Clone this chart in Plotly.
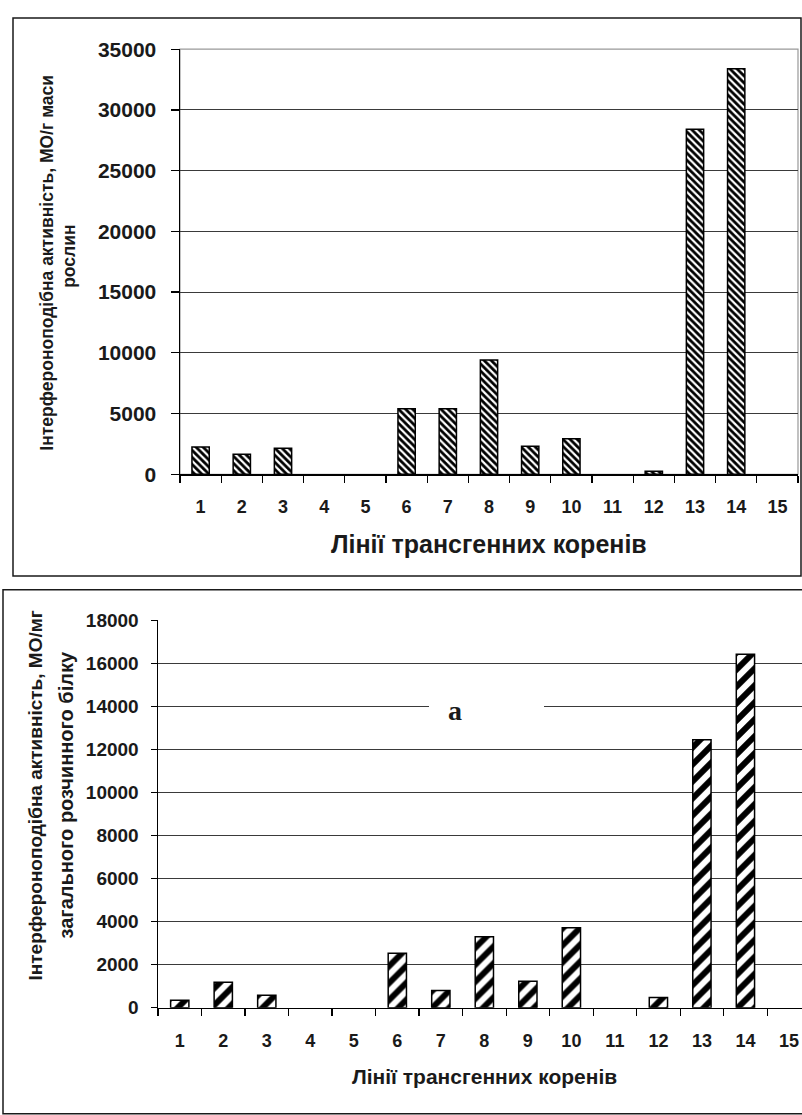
import plotly.graph_objects as go

# ---------------- data ----------------
lines = [str(i) for i in range(1, 16)]
# top chart: IU per g of plant mass (None = no bar)
ifn_per_g = [2250, 1640, 2150, None, None, 5400, 5400, 9400, 2300, 2930, None, 250, 28400, 33400, None]
# bottom chart: IU per mg of total soluble protein
ifn_per_mg = [350, 1180, 580, None, None, 2530, 800, 3300, 1230, 3720, None, 470, 12450, 16420, None]

top_yticks = [0, 5000, 10000, 15000, 20000, 25000, 30000, 35000]
bot_yticks = [0, 2000, 4000, 6000, 8000, 10000, 12000, 14000, 16000, 18000]

top_ytitle = ["Інтерфероноподібна активність, МО/г маси", "рослин"]
bot_ytitle = ["Інтерфероноподібна активність, МО/мг", "загального розчинного білку"]
xtitle = "Лінії трансгенних коренів"
panel_label = "a"

# ---------------- layout helpers ----------------
W, H = 802, 1115
FONT = "Arial, 'Liberation Sans', sans-serif"
INK = "#1a1a1a"


def px(x):
    return x / W


def py(y):
    return 1 - y / H


fig = go.Figure()

fig.add_trace(go.Bar(
    x=lines, y=ifn_per_g, xaxis="x", yaxis="y", width=0.42,
    marker=dict(color="white", line=dict(color="black", width=1.5),
                pattern=dict(shape="\\", size=5, solidity=0.55, fgopacity=1,
                             fgcolor="black", bgcolor="white")),
))
fig.add_trace(go.Bar(
    x=lines, y=ifn_per_mg, xaxis="x2", yaxis="y2", width=0.42,
    marker=dict(color="white", line=dict(color="black", width=1.5),
                pattern=dict(shape="/", size=12, solidity=0.5, fgopacity=1,
                             fgcolor="black", bgcolor="white")),
))

common_x = dict(type="category", tickson="boundaries", ticks="outside", ticklen=7,
                tickcolor="black", tickwidth=1.2, showline=True, linecolor="black",
                linewidth=1.5, showgrid=False, zeroline=False, fixedrange=True)
common_y = dict(ticks="outside", tickcolor="black", tickwidth=1.2, showline=True,
                linecolor="black", linewidth=1.5, showgrid=True, gridcolor="#3a3a3a",
                gridwidth=1, zeroline=False, tickformat="d")

fig.update_layout(
    width=W, height=H, margin=dict(l=0, r=0, t=0, b=0),
    paper_bgcolor="white", plot_bgcolor="rgba(0,0,0,0)", showlegend=False,
    font=dict(family=FONT, color=INK),
    xaxis=dict(domain=[px(180), px(798)], range=[-0.5, 14.5], anchor="y",
               tickfont=dict(size=18, weight="bold", color=INK),
               ticklabelstandoff=16, **common_x),
    yaxis=dict(domain=[py(472), py(38)], range=[0, 35000], anchor="x",
               tickvals=top_yticks, ticklen=8,
               tickfont=dict(size=21, weight="bold", color=INK),
               ticklabelstandoff=10, **common_y),
    xaxis2=dict(domain=[px(158), 1.0], range=[-0.5, 14.3], anchor="y2",
                tickfont=dict(size=18, weight="bold", color=INK),
                ticklabelstandoff=16, **common_x),
    yaxis2=dict(domain=[py(1016.7), py(621)], range=[0, 18000], anchor="x2",
                tickvals=bot_yticks, ticklen=6,
                tickfont=dict(size=19, weight="bold", color=INK),
                ticklabelstandoff=8, **common_y),
)

shapes = [
    # outer frame of top chart
    dict(type="rect", xref="paper", yref="paper", x0=px(13), x1=px(801), y0=py(576), y1=py(6),
         line=dict(color=INK, width=1.5), fillcolor="rgba(0,0,0,0)", layer="below"),
    # plot-area border of top chart (grey)
    dict(type="rect", xref="paper", yref="paper", x0=px(180), x1=px(798), y0=py(472), y1=py(38),
         line=dict(color="#999", width=1.2), fillcolor="rgba(0,0,0,0)", layer="below"),
    # outer frame of bottom chart (cut by page edge)
    dict(type="rect", xref="paper", yref="paper", x0=px(3), x1=px(812), y0=py(1125), y1=py(590),
         line=dict(color=INK, width=1.5), fillcolor="rgba(0,0,0,0)", layer="below"),
    # white box behind the panel label
    dict(type="rect", xref="paper", yref="paper", x0=px(429), x1=px(544), y0=py(735), y1=py(690),
         line=dict(width=0), fillcolor="white", layer="above"),
]
fig.update_layout(shapes=shapes)

ann = []
# top y-axis title (two lines)
ann.append(dict(text=top_ytitle[0], x=px(47), y=py(256), xref="paper", yref="paper",
                textangle=-90, showarrow=False, xanchor="center", yanchor="middle",
                font=dict(size=17.5, weight="bold", color=INK)))
ann.append(dict(text=top_ytitle[1], x=px(69), y=py(250), xref="paper", yref="paper",
                textangle=-90, showarrow=False, xanchor="center", yanchor="middle",
                font=dict(size=17.5, weight="bold", color=INK)))
# bottom y-axis title
ann.append(dict(text=bot_ytitle[0], x=px(35), y=py(800), xref="paper", yref="paper",
                textangle=-90, showarrow=False, xanchor="center", yanchor="middle",
                font=dict(size=19, weight="bold", color=INK)))
ann.append(dict(text=bot_ytitle[1], x=px(66), y=py(800), xref="paper", yref="paper",
                textangle=-90, showarrow=False, xanchor="center", yanchor="middle",
                font=dict(size=20, weight="bold", color=INK)))
# x titles
ann.append(dict(text=xtitle, x=px(489), y=py(543), xref="paper", yref="paper",
                showarrow=False, xanchor="center", yanchor="middle",
                font=dict(size=25, weight="bold", color=INK)))
ann.append(dict(text=xtitle, x=px(484), y=py(1087), xref="paper", yref="paper",
                showarrow=False, xanchor="center", yanchor="middle",
                font=dict(size=21, weight="bold", color=INK)))
# panel label
ann.append(dict(text=panel_label, x=px(455), y=py(713), xref="paper", yref="paper",
                showarrow=False, xanchor="center", yanchor="middle",
                font=dict(size=28, weight="bold", color=INK,
                          family="'Times New Roman', 'Liberation Serif', serif")))
fig.update_layout(annotations=ann)

fig.write_html("out.html", config={"displayModeBar": False, "staticPlot": True},
               post_script="document.body.style.margin='0';document.body.style.overflow='hidden';")
